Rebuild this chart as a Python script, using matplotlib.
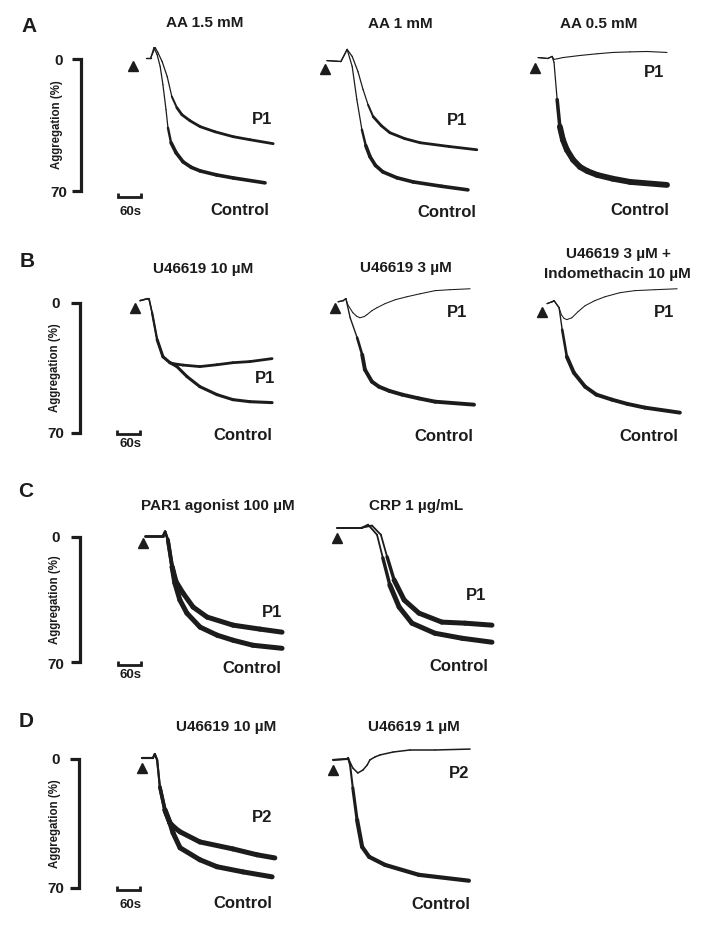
import matplotlib
matplotlib.use('Agg')
import matplotlib.pyplot as plt
from matplotlib.collections import LineCollection
import numpy as np

plt.rcParams['font.family'] = ['Liberation Sans', 'DejaVu Sans']
plt.rcParams['font.weight'] = 'bold'

# ---------------- data (time in s after agonist, aggregation in %) ----------------
SCALE_PCT = [0, 70]
SCALE_SEC = 60

# A1: AA 1.5 mM
A1_ctrl_t = [33, 46, 54, 62, 70, 77, 85, 90, 98, 111, 129, 150, 173, 215, 258, 340]
A1_ctrl_y = [-0.5, -0.5, -5.8, -2.1, 4.2, 13.8, 27.0, 36.6, 44.5, 49.8, 54.6, 57.5, 59.4, 61.5, 63.1, 65.7]
A1_p1_t = [33, 46, 57, 64, 75, 88, 100, 113, 126, 147, 173, 211, 258, 301, 361]
A1_p1_y = [-0.5, -0.5, -5.8, -3.2, 1.6, 9.5, 20.1, 26.0, 29.7, 32.9, 36.0, 38.7, 41.3, 42.9, 45.0]
# A2: AA 1 mM
A2_ctrl_t = [5, 41, 57, 70, 82, 95, 105, 116, 130, 149, 185, 227, 300, 368]
A2_ctrl_y = [1.1, 1.6, -4.8, 4.2, 21.7, 37.6, 46.0, 51.9, 56.5, 59.9, 63.0, 65.2, 67.5, 69.4]
A2_p1_t = [5, 41, 57, 70, 85, 98, 111, 124, 145, 167, 205, 245, 320, 391]
A2_p1_y = [1.1, 1.6, -4.8, -1.1, 7.0, 16.4, 24.5, 30.7, 35.5, 39.2, 42.3, 44.5, 46.5, 48.2]
# A3: AA 0.5 mM
A3_ctrl_t = [8, 33, 44, 49, 57, 64, 72, 82, 98, 116, 135, 160, 200, 245, 340]
A3_ctrl_y = [-0.5, 0.0, -1.1, 2.1, 21.7, 36.0, 43.0, 48.2, 53.5, 57.3, 59.5, 61.5, 63.5, 65.2, 66.8]
A3_p1_t = [8, 33, 44, 49, 72, 116, 160, 201, 245, 288, 340]
A3_p1_y = [-0.5, 0.0, -1.1, 0.5, -0.5, -1.6, -2.5, -3.2, -3.5, -3.7, -3.2]
# B1: U46619 10 uM
B1_ctrl_t = [13, 33, 36, 44, 57, 72, 90, 108, 134, 167, 211, 252, 296, 353]
B1_ctrl_y = [-1.1, -2.2, -2.2, 5.4, 19.9, 29.1, 32.3, 34.4, 39.8, 45.2, 49.5, 52.2, 53.3, 53.8]
B1_p1_t = [13, 33, 36, 44, 57, 72, 90, 98, 124, 167, 211, 252, 296, 353]
B1_p1_y = [-1.1, -2.2, -2.2, 5.4, 19.9, 29.1, 32.3, 32.8, 33.6, 34.4, 33.4, 32.3, 31.7, 30.1]
# B2: U46619 3 uM
B2_ctrl_t = [8, 21, 28, 39, 57, 70, 77, 95, 113, 140, 173, 215, 258, 358]
B2_ctrl_y = [-0.5, -1.1, -2.2, 8.1, 18.8, 28.0, 36.0, 42.5, 45.2, 47.5, 49.5, 51.5, 53.3, 54.9]
B2_p1_t = [8, 21, 28, 33, 46, 56, 64, 75, 82, 95, 108, 129, 155, 185, 219, 258, 296, 348]
B2_p1_y = [-0.5, -1.1, -2.2, 1.1, 5.4, 7.3, 8.1, 7.5, 6.5, 4.3, 2.7, 0.5, -1.6, -3.2, -4.8, -6.5, -7.0, -7.5]
# B3: U46619 3 uM + indomethacin 10 uM
B3_ctrl_t = [13, 26, 31, 44, 52, 64, 82, 111, 140, 180, 220, 265, 355]
B3_ctrl_y = [0.5, -0.5, -1.1, 2.7, 14.5, 29.1, 37.7, 45.2, 49.5, 52.2, 54.5, 56.5, 59.2]
B3_p1_t = [13, 26, 31, 44, 50, 57, 64, 77, 93, 111, 136, 162, 201, 239, 291, 348]
B3_p1_y = [0.5, -0.5, -1.1, 2.7, 6.5, 8.5, 9.1, 8.1, 4.8, 1.6, -1.1, -3.2, -5.4, -6.5, -7.0, -7.5]
# C1: PAR1 agonist 100 uM
C1_ctrl_t = [5, 52, 57, 64, 75, 82, 95, 113, 147, 191, 232, 283, 358]
C1_ctrl_y = [-0.6, -0.6, -2.8, 1.7, 16.8, 25.8, 35.3, 42.6, 50.4, 54.9, 57.7, 60.5, 62.2]
C1_p1_t = [5, 52, 57, 64, 75, 85, 103, 129, 165, 232, 301, 358]
C1_p1_y = [-0.6, -0.6, -2.8, 1.7, 16.8, 25.0, 31.4, 39.2, 44.8, 49.3, 51.5, 53.2]
# C2: CRP 1 ug/mL
C2_ctrl_t = [0, 64, 80, 103, 118, 136, 160, 193, 252, 322, 399]
C2_ctrl_y = [-5.0, -5.0, -6.7, -1.1, 11.8, 26.9, 39.2, 48.2, 53.8, 56.6, 58.8]
C2_p1_t = [0, 64, 90, 113, 129, 147, 173, 211, 270, 330, 399]
C2_p1_y = [-5.0, -5.0, -6.2, -1.1, 11.2, 24.1, 35.3, 42.6, 47.6, 48.2, 49.3]
# D1: U46619 10 uM
D1_ctrl_t = [0, 28, 33, 39, 46, 59, 72, 80, 98, 149, 193, 260, 335]
D1_ctrl_y = [-0.5, -0.5, -2.7, 0.5, 15.2, 27.7, 34.8, 40.2, 48.3, 54.8, 58.6, 61.4, 64.1]
D1_p2_t = [0, 28, 33, 39, 46, 59, 72, 85, 98, 149, 234, 296, 342]
D1_p2_y = [-0.5, -0.5, -2.7, 0.5, 15.2, 27.7, 34.8, 37.5, 39.6, 45.1, 48.9, 52.1, 53.8]
# D2: U46619 1 uM
D2_ctrl_t = [0, 36, 39, 44, 51, 62, 75, 93, 134, 221, 350]
D2_ctrl_y = [0.5, 0.0, -0.5, 3.3, 15.7, 33.1, 47.8, 53.2, 57.6, 63.0, 66.2]
D2_p2_t = [0, 36, 39, 51, 64, 77, 88, 95, 108, 121, 155, 198, 263, 353]
D2_p2_y = [0.5, 0.0, -0.5, 4.9, 7.6, 6.0, 3.3, 0.5, -1.1, -2.2, -3.8, -4.9, -4.9, -5.4]

# ---------------- layout (pixels) ----------------
W, H, DPI = 704, 926, 100
SEC_PER_PX = 60 / 23.3
INK = '#1c1c1c'

fig = plt.figure(figsize=(W / DPI, H / DPI), dpi=DPI)
fig.patch.set_facecolor('white')


def ftext(x, y, s, size, ha='center', va='baseline', **kw):
    fig.text(x / W, 1 - y / H, s, fontsize=size, ha=ha, va=va, color=INK,
             fontweight='bold', **kw)


def make_ax(x_origin, y0, y70, left, right, top, bottom):
    ax = fig.add_axes([left / W, 1 - bottom / H, (right - left) / W, (bottom - top) / H])
    k = 70.0 / (y70 - y0)
    ax.set_xlim((left - x_origin) * SEC_PER_PX, (right - x_origin) * SEC_PER_PX)
    ax.set_ylim((bottom - y0) * k, (top - y0) * k)
    ax.set_axis_off()
    ax.patch.set_alpha(0)
    return ax, k


def trace(ax, t, y, lw_head, lw_tail=None, t_split=None):
    t = np.asarray(t, float)
    y = np.asarray(y, float)
    pts = np.column_stack([t, y])
    segs = np.stack([pts[:-1], pts[1:]], axis=1)
    widths = []
    seen = 0
    for i in range(len(segs)):
        if lw_tail is None or t[i] < t_split:
            widths.append(lw_head)
        else:
            seen += 1
            widths.append(lw_head + (lw_tail - lw_head) * min(1.0, seen / 2.0))
    lc = LineCollection(segs, colors=INK, linewidths=widths, capstyle='round',
                        joinstyle='round')
    ax.add_collection(lc)


ROWS = {
    'A': dict(y0=58.5, y70=191.0, vbar=81, sb_x=118, sb_y=197, sb_lab=215,
              lab0=65, lab70=197, labx=59, aggx=57, letter=(29, 32)),
    'B': dict(y0=302.7, y70=432.7, vbar=80, sb_x=117, sb_y=434, sb_lab=447,
              lab0=308, lab70=438, labx=56, aggx=55, letter=(27, 267)),
    'C': dict(y0=536.7, y70=662.3, vbar=80, sb_x=118, sb_y=665, sb_lab=678,
              lab0=542, lab70=669, labx=56, aggx=55, letter=(26, 497)),
    'D': dict(y0=759.0, y70=887.7, vbar=79, sb_x=117, sb_y=890, sb_lab=908,
              lab0=764, lab70=893, labx=56, aggx=55, letter=(26, 727)),
}

for name, r in ROWS.items():
    ax, k = make_ax(r['sb_x'], r['y0'], r['y70'], 40, 170, r['y0'] - 30, r['y70'] + 40)
    xb = (r['vbar'] - r['sb_x']) * SEC_PER_PX
    tick = 9 * SEC_PER_PX
    ax.plot([xb - tick, xb, xb, xb - tick],
            [SCALE_PCT[0], SCALE_PCT[0], SCALE_PCT[1], SCALE_PCT[1]],
            color=INK, lw=2.3, solid_joinstyle='miter', solid_capstyle='butt')
    yb = (r['sb_y'] - r['y0']) * k
    up = 4 * k
    ax.plot([0, 0, SCALE_SEC, SCALE_SEC], [yb - up, yb, yb, yb - up],
            color=INK, lw=2.0, solid_joinstyle='miter', solid_capstyle='butt')
    ftext(r['labx'], r['lab0'], '0', 11)
    ftext(r['labx'], r['lab70'], '70', 11)
    ftext(130, r['sb_lab'], '60s', 9.5)
    ftext(r['aggx'], (r['y0'] + r['y70']) / 2, 'Aggregation (%)', 8.3,
          va='center', rotation=90)
    ftext(r['letter'][0], r['letter'][1], name, 15)

# panels: (row, arrow x px, arrow y %, traces, title lines, labels)
PANELS = [
    ('A', 133, 4.2, [(A1_ctrl_t, A1_ctrl_y, 0.9, 2.6, 90), (A1_p1_t, A1_p1_y, 0.9, 2.0, 100)],
     [('AA 1.5 mM', 205, 27)], [('P1', 262, 124), ('Control', 240, 215)]),
    ('A', 325, 5.8, [(A2_ctrl_t, A2_ctrl_y, 0.9, 2.6, 95), (A2_p1_t, A2_p1_y, 0.9, 2.0, 111)],
     [('AA 1 mM', 400, 28)], [('P1', 457, 125), ('Control', 447, 217)]),
    ('A', 535, 4.8, [(A3_ctrl_t, A3_ctrl_y, 0.9, 4.2, 57), (A3_p1_t, A3_p1_y, 0.8, None, None)],
     [('AA 0.5 mM', 599, 28)], [('P1', 654, 77), ('Control', 640, 215)]),
    ('B', 135, 2.7, [(B1_ctrl_t, B1_ctrl_y, 1.1, 2.2, 44), (B1_p1_t, B1_p1_y, 1.1, 2.0, 72)],
     [('U46619 10 µM', 203, 273)], [('P1', 265, 383), ('Control', 243, 440)]),
    ('B', 335, 2.7, [(B2_ctrl_t, B2_ctrl_y, 1.0, 2.8, 57), (B2_p1_t, B2_p1_y, 0.75, None, None)],
     [('U46619 3 µM', 406, 272)], [('P1', 457, 317), ('Control', 444, 441)]),
    ('B', 542, 4.8, [(B3_ctrl_t, B3_ctrl_y, 1.0, 2.8, 52), (B3_p1_t, B3_p1_y, 0.75, None, None)],
     [('U46619 3 µM +', 618, 258), ('Indomethacin 10 µM', 617, 278)],
     [('P1', 664, 317), ('Control', 649, 441)]),
    ('C', 143, 3.4, [(C1_ctrl_t, C1_ctrl_y, 1.8, 3.6, 64), (C1_p1_t, C1_p1_y, 1.8, 3.6, 64)],
     [('PAR1 agonist 100 µM', 218, 510)], [('P1', 272, 617), ('Control', 252, 673)]),
    ('C', 337, 0.6, [(C2_ctrl_t, C2_ctrl_y, 1.3, 3.6, 118), (C2_p1_t, C2_p1_y, 1.3, 3.6, 129)],
     [('CRP 1 µg/mL', 416, 510)], [('P1', 476, 600), ('Control', 459, 671)]),
    ('D', 142, 4.9, [(D1_ctrl_t, D1_ctrl_y, 1.5, 3.6, 46), (D1_p2_t, D1_p2_y, 1.5, 3.6, 46)],
     [('U46619 10 µM', 226, 731)], [('P2', 262, 822), ('Control', 243, 908)]),
    ('D', 333, 6.0, [(D2_ctrl_t, D2_ctrl_y, 1.5, 3.0, 51), (D2_p2_t, D2_p2_y, 1.1, None, None)],
     [('U46619 1 µM', 414, 731)], [('P2', 459, 778), ('Control', 441, 909)]),
]

for row, xo, arr_y, traces, titles, labels in PANELS:
    r = ROWS[row]
    ax, k = make_ax(xo, r['y0'], r['y70'], xo - 25, xo + 190, r['y0'] - 30, r['y70'] + 25)
    for t, y, lh, lt, ts in traces:
        trace(ax, t, y, lh, lt, ts)
    ax.plot([0], [arr_y], marker='^', ms=7.5, color=INK, mec=INK, ls='none')
    for s, x, yy in titles:
        ftext(x, yy, s, 11)
    for s, x, yy in labels:
        ftext(x, yy, s, 12)

fig.savefig('out.png', dpi=DPI, facecolor='white')
